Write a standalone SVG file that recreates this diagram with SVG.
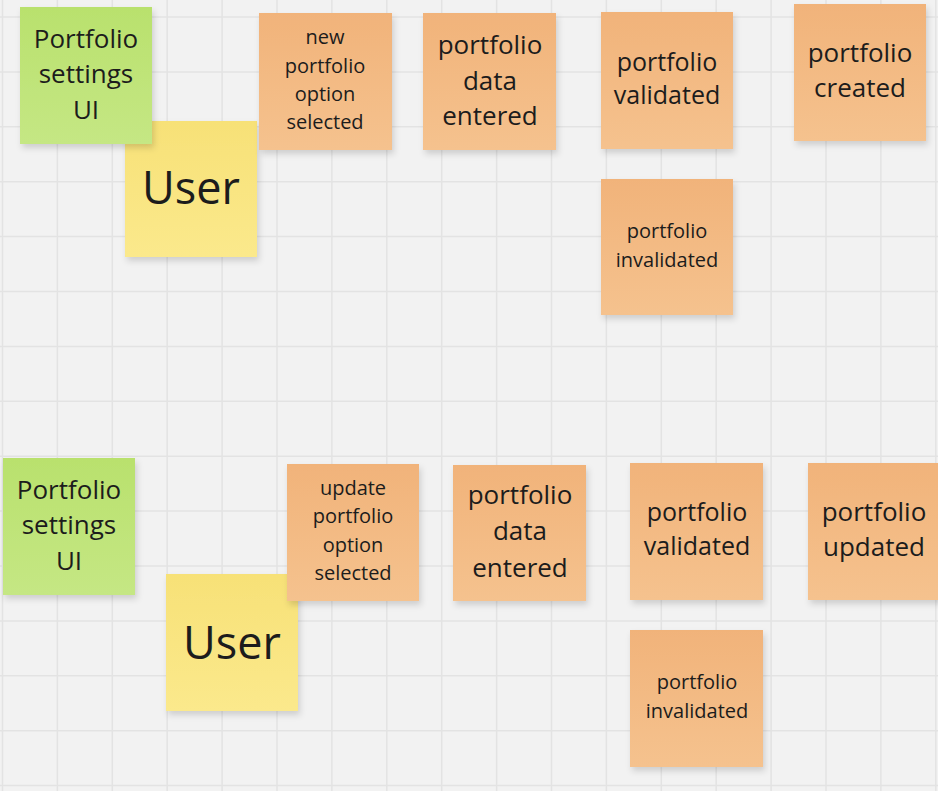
<svg xmlns="http://www.w3.org/2000/svg" width="938" height="791" viewBox="0 0 938 791">
<defs>
<linearGradient id="gOrange" x1="0" y1="0" x2="0" y2="1"><stop offset="0" stop-color="#f1b37a"/><stop offset="1" stop-color="#f5c28e"/></linearGradient>
<linearGradient id="gGreen" x1="0" y1="0" x2="0" y2="1"><stop offset="0" stop-color="#b9e16d"/><stop offset="1" stop-color="#c5e784"/></linearGradient>
<linearGradient id="gYellow" x1="0" y1="0" x2="0" y2="1"><stop offset="0" stop-color="#f7e177"/><stop offset="1" stop-color="#fbe98c"/></linearGradient>
<filter id="sh" x="-10%" y="-10%" width="130%" height="130%"><feDropShadow dx="2" dy="4" stdDeviation="3" flood-color="#000" flood-opacity="0.15"/></filter>
</defs>
<style>
text{font-family:"Open Sans","Noto Sans","DejaVu Sans",sans-serif;fill:#1c1c1c;text-anchor:middle}
.o{fill:url(#gOrange);filter:url(#sh)}
.g{fill:url(#gGreen);filter:url(#sh)}
.y{fill:url(#gYellow);filter:url(#sh)}
.s26{font-size:26px}
.s25{font-size:25px}
.s20{font-size:20px}
.s45{font-size:45px}
.grid{stroke:#e3e3e3;stroke-width:1.5;fill:none}
</style>
<rect width="938" height="791" fill="#f2f2f2"/>
<path class="grid" d="M2.5 0V791M57.4 0V791M112.3 0V791M167.2 0V791M222.1 0V791M277 0V791M331.9 0V791M386.8 0V791M441.7 0V791M496.6 0V791M551.5 0V791M606.4 0V791M661.3 0V791M716.2 0V791M771.1 0V791M826 0V791M880.9 0V791M935.8 0V791M0 17H938M0 71.9H938M0 126.8H938M0 181.7H938M0 236.6H938M0 291.5H938M0 346.4H938M0 401.3H938M0 456.2H938M0 511.1H938M0 566H938M0 620.9H938M0 675.8H938M0 730.7H938M0 785.6H938"/>
<g id="connectors"></g>

<g id="user-top"><rect class="y" x="125" y="121" width="132" height="136"/><text class="s45" x="191" y="204">User</text></g>
<g id="ui-top"><rect class="g" x="20" y="7" width="132" height="137"/><text class="s26" x="86"><tspan x="86" y="48">Portfolio</tspan><tspan x="86" y="83">settings</tspan><tspan x="86" y="119">UI</tspan></text></g>
<g id="new-option-selected"><rect class="o" x="259" y="13" width="133" height="137"/><text class="s20"><tspan x="325" y="44">new</tspan><tspan x="325" y="73">portfolio</tspan><tspan x="325" y="101">option</tspan><tspan x="325" y="129">selected</tspan></text></g>
<g id="data-entered-top"><rect class="o" x="423" y="13" width="133" height="137"/><text class="s26"><tspan x="490" y="54">portfolio</tspan><tspan x="490" y="90">data</tspan><tspan x="490" y="125">entered</tspan></text></g>
<g id="validated-top"><rect class="o" x="601" y="12" width="132" height="137"/><text class="s25"><tspan x="667" y="71">portfolio</tspan><tspan x="667" y="104">validated</tspan></text></g>
<g id="created"><rect class="o" x="794" y="4" width="132" height="137"/><text class="s26"><tspan x="860" y="62">portfolio</tspan><tspan x="860" y="97">created</tspan></text></g>
<g id="invalidated-top"><rect class="o" x="601" y="179" width="132" height="136"/><text class="s20"><tspan x="667" y="238">portfolio</tspan><tspan x="667" y="267">invalidated</tspan></text></g>

<g id="user-bottom"><rect class="y" x="166" y="574" width="132" height="137"/><text class="s45" x="232" y="659">User</text></g>
<g id="ui-bottom"><rect class="g" x="3" y="458" width="132" height="137"/><text class="s26"><tspan x="69" y="499">Portfolio</tspan><tspan x="69" y="534">settings</tspan><tspan x="69" y="570">UI</tspan></text></g>
<g id="update-option-selected"><rect class="o" x="287" y="464" width="132" height="137"/><text class="s20"><tspan x="353" y="495">update</tspan><tspan x="353" y="523">portfolio</tspan><tspan x="353" y="552">option</tspan><tspan x="353" y="580">selected</tspan></text></g>
<g id="data-entered-bottom"><rect class="o" x="453" y="465" width="133" height="136"/><text class="s26"><tspan x="520" y="504">portfolio</tspan><tspan x="520" y="540">data</tspan><tspan x="520" y="577">entered</tspan></text></g>
<g id="validated-bottom"><rect class="o" x="630" y="463" width="133" height="137"/><text class="s25"><tspan x="697" y="521">portfolio</tspan><tspan x="697" y="555">validated</tspan></text></g>
<g id="updated"><rect class="o" x="808" y="463" width="140" height="137"/><text class="s26"><tspan x="874" y="521">portfolio</tspan><tspan x="874" y="556">updated</tspan></text></g>
<g id="invalidated-bottom"><rect class="o" x="630" y="630" width="133" height="137"/><text class="s20"><tspan x="697" y="689">portfolio</tspan><tspan x="697" y="718">invalidated</tspan></text></g>
</svg>
